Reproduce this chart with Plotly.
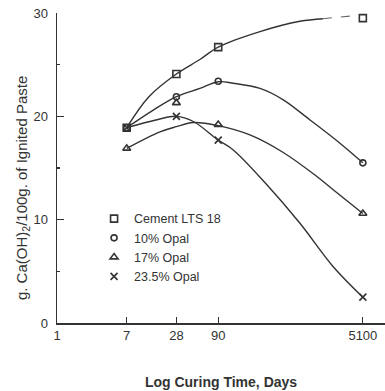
import plotly.graph_objects as go

# Measured points (curing time in days, g Ca(OH)2 / 100 g ignited paste)
days = [7, 28, 90, 5100]
cement = [18.9, 24.1, 26.7, 29.5]
opal10 = [18.9, 21.9, 23.4, 15.5]
opal17 = [16.9, 21.3, 19.2, 10.6]
opal235 = [18.9, 20.0, 17.7, 2.5]

# Hand-drawn curves
cement_cx = [7, 13, 28, 54, 90, 289, 881, 1670]
cement_cy = [18.9, 21.9, 24.1, 25.5, 26.7, 28.2, 29.2, 29.45]
cement_dash_x = [1670, 3550]
cement_dash_y = [29.45, 29.7]
opal10_cx = [7, 14.7, 28, 54, 90, 137, 289, 553, 1166, 2690, 5100]
opal10_cy = [18.9, 20.6, 21.9, 22.7, 23.35, 23.2, 22.7, 21.6, 19.65, 17.4, 15.5]
opal17_cx = [7, 17.7, 28, 45, 90, 218, 553, 1400, 2230, 5100]
opal17_cy = [16.9, 18.5, 19.0, 19.4, 19.1, 18.2, 16.5, 14.2, 12.9, 10.6]
opal235_cx = [7, 13.4, 28, 45, 90, 137, 348, 881, 2230, 5100]
opal235_cy = [18.9, 19.5, 20.0, 19.5, 17.7, 16.75, 13.4, 9.65, 5.45, 2.5]

names = ["Cement LTS 18", "10% Opal", "17% Opal", "23.5% Opal"]
symbols = ["square-open", "circle-open", "triangle-up-open", "x-thin-open"]
sizes = [7, 6, 7, 7]

x_ticks = [1, 7, 28, 90, 5100]
x_ticktext = ["1", "7", "28", "90", "5100"]
y_ticks = [0, 10, 20, 30]

INK = "#333333"
FONT = "Liberation Sans, Arial, sans-serif"

fig = go.Figure()

curves = [(cement_cx, cement_cy), (opal10_cx, opal10_cy),
          (opal17_cx, opal17_cy), (opal235_cx, opal235_cy)]
for cx, cy in curves:
    fig.add_trace(go.Scatter(x=cx, y=cy, mode="lines",
                             line=dict(color=INK, width=1.4, shape="spline", smoothing=1.0),
                             showlegend=False, hoverinfo="skip"))
fig.add_trace(go.Scatter(x=cement_dash_x, y=cement_dash_y, mode="lines",
                         line=dict(color="#666666", width=1.1, dash="dash"),
                         showlegend=False, hoverinfo="skip"))

for name, vals, sym, sz in zip(names, [cement, opal10, opal17, opal235], symbols, sizes):
    fig.add_trace(go.Scatter(x=days, y=vals, mode="markers", name=name,
                             marker=dict(symbol=sym, size=sz, color=INK,
                                         line=dict(color=INK, width=1.6)),
                             cliponaxis=False))

fig.update_layout(
    width=385, height=391,
    margin=dict(l=57, r=0, t=13, b=68, autoexpand=False),
    paper_bgcolor="white", plot_bgcolor="white",
    font=dict(family=FONT, size=13, color=INK),
    showlegend=True,
    legend=dict(x=0.113, y=0.384, xanchor="left", yanchor="top",
                bgcolor="rgba(0,0,0,0)", font=dict(size=12.5, color=INK),
                itemsizing="trace", tracegroupgap=0),
)
fig.update_xaxes(type="log", range=[0, 3.976], automargin=False,
                 tickvals=x_ticks, ticktext=x_ticktext, tickfont=dict(size=13),
                 ticklabeloverflow="allow",
                 ticks="inside", ticklen=6, tickcolor=INK, tickwidth=1.2,
                 showline=True, linecolor=INK, linewidth=1.5,
                 showgrid=False, zeroline=False,
                 title=dict(text="<b>Log Curing Time, Days</b>", font=dict(size=14), standoff=35))
fig.update_yaxes(range=[0, 30], tickvals=y_ticks, automargin=False, tickfont=dict(size=13),
                 ticklabeloverflow="allow",
                 ticks="inside", ticklen=7, tickcolor=INK, tickwidth=1.2,
                 ticklabelstandoff=5,
                 minor=dict(dtick=5, ticks="inside", ticklen=3, tickcolor=INK),
                 showline=True, linecolor=INK, linewidth=1.5,
                 showgrid=False, zeroline=False)

fig.add_annotation(text="g. Ca(OH)<sub>2</sub>/100g. of Ignited Paste",
                   xref="paper", yref="paper", x=-0.107, y=0.435,
                   xanchor="center", yanchor="middle",
                   textangle=-90, showarrow=False,
                   font=dict(size=15, color=INK, family=FONT))

fig.write_html("out.html",
               config={"displayModeBar": False, "staticPlot": True},
               post_script="document.body.style.margin='0px';")
